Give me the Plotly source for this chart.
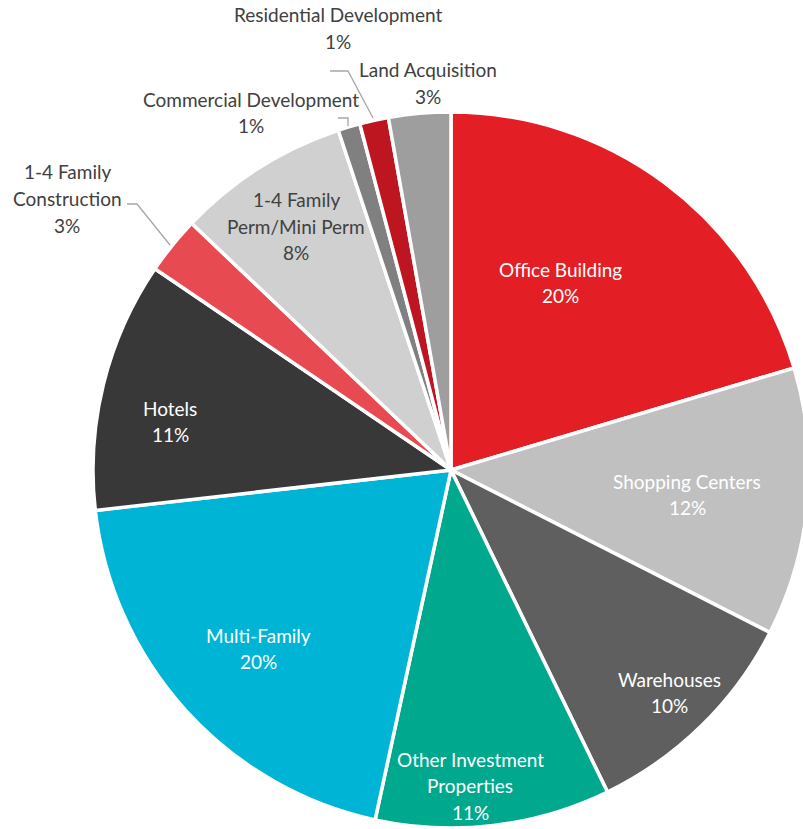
import plotly.graph_objects as go

# Loan portfolio composition by property type (share of total, %)
categories = [
    "Office Building",
    "Shopping Centers",
    "Warehouses",
    "Other Investment<br>Properties",
    "Multi-Family",
    "Hotels",
    "1-4 Family<br>Construction",
    "1-4 Family<br>Perm/Mini Perm",
    "Commercial Development",
    "Residential Development",
    "Land Acquisition",
]
shares = [20.4, 12.1, 10.3, 10.6, 19.8, 11.3, 2.6, 7.8, 1.0, 1.3, 2.8]

colors = [
    "#E31E24", "#C0C0C0", "#5F5F5F", "#00A88E", "#00B4D5", "#383838",
    "#E84A51", "#D0D0D0", "#808080", "#BE1620", "#9E9E9E",
]

W, H = 810, 829
FONT = "Lato"
FS = 19
LINE_GAP = 26.5

# Pixel geometry of the pie (center and radius)
CX, CY, R = 451, 470, 358

# Label placement: (center x of block, y of first line, text colour)
label_layout = [
    (560, 269, "white"),
    (687, 481, "white"),
    (669, 679, "white"),
    (470, 759, "white"),
    (258, 635, "white"),
    (170, 408, "white"),
    (67, 172, "#404040"),
    (296, 200, "#404040"),
    (251, 99, "#404040"),
    (338, 15, "#404040"),
    (428, 70, "#404040"),
]

fig = go.Figure(
    go.Pie(
        labels=[c.replace("<br>", " ") for c in categories],
        values=shares,
        sort=False,
        direction="clockwise",
        rotation=0,
        marker=dict(colors=colors, line=dict(color="white", width=3.5)),
        textinfo="none",
        hoverinfo="label+percent",
        showlegend=False,
        domain=dict(x=[(CX - R) / W, (CX + R) / W], y=[(H - CY - R) / H, (H - CY + R) / H]),
    )
)

total = sum(shares)
annotations = []
for name, val, (lx, ly, col) in zip(categories, shares, label_layout):
    lines = name.split("<br>") + [f"{round(val / total * 100)}%"]
    for i, line in enumerate(lines):
        annotations.append(
            dict(
                x=lx / W,
                y=1 - (ly + i * LINE_GAP) / H,
                xref="paper",
                yref="paper",
                text=line,
                showarrow=False,
                xanchor="center",
                yanchor="middle",
                font=dict(family=FONT, size=FS, color=col),
            )
        )


def px_path(points):
    d = "M " + " L ".join(f"{x / W},{1 - y / H}" for x, y in points)
    return dict(type="path", path=d, xref="paper", yref="paper",
                line=dict(color="#A6A6A6", width=1.3))


# Leader lines for the small outside-labelled slices
shapes = [
    px_path([(127, 204), (137, 204), (170, 245)]),
    px_path([(338, 118), (348, 118), (348, 126)]),
    px_path([(330, 71), (348, 71), (373, 118)]),
]

fig.update_layout(
    width=W,
    height=H,
    autosize=False,
    margin=dict(l=0, r=0, t=0, b=0),
    paper_bgcolor="white",
    plot_bgcolor="white",
    annotations=annotations,
    shapes=shapes,
)

fig.write_html(
    "out.html",
    post_script="document.documentElement.style.overflow='hidden';document.body.style.overflow='hidden';",
)
